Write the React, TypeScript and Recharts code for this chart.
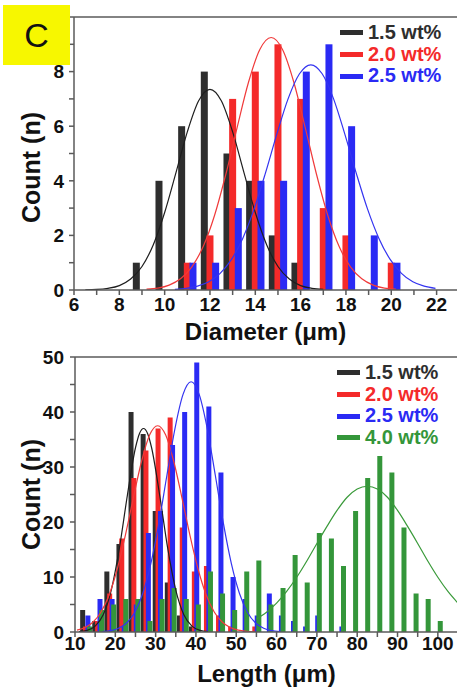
import React from 'react';
import { ComposedChart, Bar, Line, XAxis, YAxis, ReferenceLine } from 'recharts';

const FONT = '"Liberation Sans", Arial, sans-serif';

// ---------- shared ----------
const seriesNames = ['1.5 wt%', '2.0 wt%', '2.5 wt%', '4.0 wt%'];
const barColors = ['#2e2e2e', '#f42a2a', '#2a2af4', '#34963a'];
const lineColors = ['#1e1e1e', '#f03a3a', '#3434f0', '#3a9a3a'];

// ---------- top panel: Diameter ----------
const diaXTicks = [6, 7, 8, 9, 10, 11, 12, 13, 14, 15, 16, 17, 18, 19, 20, 21, 22];
const diaXLabels = [6, 8, 10, 12, 14, 16, 18, 20, 22];
const diaYTicks = [0, 1, 2, 3, 4, 5, 6, 7, 8, 9, 10];
const diaYLabels = [0, 2, 4, 6, 8];

const dia15X = [8.75, 9.75, 10.75, 11.75, 12.75, 13.75, 14.75, 15.75];
const dia15N = [1, 4, 6, 8, 5, 4, 2, 1];
const dia20X = [11, 12, 13, 14, 15, 16, 17, 18, 20];
const dia20N = [1, 2, 7, 8, 9, 7, 3, 2, 1];
const dia25X = [11.25, 12.25, 13.25, 14.25, 15.25, 16.25, 17.25, 18.25, 19.25, 20.25];
const dia25N = [1, 1, 3, 4, 4, 8, 9, 6, 2, 1];

const dia15FitX = [6.5, 7, 7.5, 8, 8.5, 9, 9.5, 10, 10.5, 11, 11.5, 12, 12.5, 13, 13.5, 14, 14.5, 15, 15.5, 16, 16.5, 17];
const dia15FitY = [0.01, 0.02, 0.06, 0.16, 0.4, 0.86, 1.66, 2.84, 4.3, 5.79, 6.93, 7.35, 6.93, 5.79, 4.3, 2.84, 1.66, 0.86, 0.4, 0.16, 0.06, 0.02];
const dia20FitX = [9.2, 9.7, 10.2, 10.7, 11.2, 11.7, 12.2, 12.7, 13.2, 13.7, 14.2, 14.7, 15.2, 15.7, 16.2, 16.7, 17.2, 17.7, 18.2, 18.7, 19.2, 19.7, 20.2];
const dia20FitY = [0.03, 0.07, 0.18, 0.41, 0.85, 1.59, 2.73, 4.24, 5.96, 7.61, 8.81, 9.25, 8.81, 7.61, 5.96, 4.24, 2.73, 1.59, 0.85, 0.41, 0.18, 0.07, 0.03];
const dia25FitX = [10.45, 10.95, 11.45, 11.95, 12.45, 12.95, 13.45, 13.95, 14.45, 14.95, 15.45, 15.95, 16.45, 16.95, 17.45, 17.95, 18.45, 18.95, 19.45, 19.95, 20.45, 20.95, 21.45, 21.95];
const dia25FitY = [0.02, 0.06, 0.14, 0.3, 0.61, 1.12, 1.9, 2.97, 4.29, 5.71, 7.01, 7.92, 8.25, 7.92, 7.01, 5.71, 4.29, 2.97, 1.9, 1.12, 0.61, 0.3, 0.14, 0.06];

// ---------- bottom panel: Length ----------
const lenXTicks = [10, 15, 20, 25, 30, 35, 40, 45, 50, 55, 60, 65, 70, 75, 80, 85, 90, 95, 100];
const lenXLabels = [10, 20, 30, 40, 50, 60, 70, 80, 90, 100];
const lenYTicks = [0, 5, 10, 15, 20, 25, 30, 35, 40, 45, 50];
const lenYLabels = [0, 10, 20, 30, 40, 50];

const len15X = [11.9, 14.9, 17.9, 20.9, 23.9, 26.9, 29.9, 32.9, 35.9, 38.9];
const len15N = [4, 2, 11, 16, 40, 36, 22, 9, 3, 1];
const len20X = [12.6, 15.6, 18.6, 21.6, 24.6, 27.6, 30.6, 33.6, 36.6, 39.6, 42.6, 45.6, 48.6, 54.6];
const len20N = [1, 2, 7, 17, 28, 33, 37, 39, 19, 11, 12, 3, 1, 1];
const len25X = [13.2, 16.2, 19.2, 22.2, 25.2, 28.2, 31.2, 34.2, 37.2, 40.2, 43.2, 46.2, 49.2, 52.2, 55.2, 58.2, 61.2, 64.2, 67.2, 70.2, 76.2];
const len25N = [3, 6, 6, 1, 5, 18, 22, 34, 40, 49, 41, 29, 10, 6, 3, 7, 3, 2, 1, 3, 1];
const len40X = [13.6, 16.6, 19.6, 22.6, 25.6, 28.6, 31.6, 34.6, 37.6, 40.6, 43.6, 46.6, 49.6, 52.6, 55.6, 58.6, 61.6, 64.6, 67.6, 70.6, 73.6, 76.6, 79.6, 82.6, 85.6, 88.6, 91.6, 94.6, 97.6, 100.6];
const len40N = [1, 4, 5, 6, 6, 2, 6, 8, 6, 5, 11, 7, 4, 11, 13, 5, 8, 14, 9, 18, 17, 12, 22, 28, 32, 29, 19, 7, 6, 2];

const len15FitX = [11, 13, 15, 17, 19, 21, 23, 25, 26, 27, 28, 29, 31, 33, 35, 37, 39, 41, 43];
const len15FitY = [0.07, 0.29, 1.06, 3.13, 7.62, 15.2, 24.9, 33.5, 36.1, 37, 36.1, 33.5, 24.9, 15.2, 7.62, 3.13, 1.06, 0.29, 0.07];
const len20FitX = [10.5, 12.5, 14.5, 16.5, 18.5, 20.5, 22.5, 24.5, 26.5, 28.5, 30.5, 32.5, 34.5, 36.5, 38.5, 40.5, 42.5, 44.5, 46.5, 48.5, 50.5, 52.5, 54.5];
const len20FitY = [0.33, 0.81, 1.81, 3.69, 6.82, 11.5, 17.6, 24.5, 31.0, 35.8, 37.5, 35.8, 31.0, 24.5, 17.6, 11.5, 6.82, 3.69, 1.81, 0.81, 0.33, 0.12, 0.04];
const len25FitX = [16.8, 18.8, 20.8, 22.8, 24.8, 26.8, 28.8, 30.8, 32.8, 34.8, 36.8, 38.8, 40.8, 42.8, 44.8, 46.8, 48.8, 50.8, 52.8, 54.8, 56.8, 58.8, 60.8];
const len25FitY = [0.08, 0.25, 0.67, 1.63, 3.56, 7.0, 12.4, 19.8, 28.5, 37.0, 43.2, 45.5, 43.2, 37.0, 28.5, 19.8, 12.4, 7.0, 3.56, 1.63, 0.67, 0.25, 0.08];
const len40FitX = [55, 57.5, 60, 62.5, 65, 67.5, 70, 72.5, 75, 77.5, 80, 82.5, 85, 87.5, 90, 92.5, 95, 97.5, 100, 102.5, 105];
const len40FitY = [2.36, 3.59, 5.25, 7.37, 9.95, 12.9, 16.1, 19.2, 22.1, 24.5, 26.0, 26.5, 26.0, 24.5, 22.1, 19.2, 16.1, 12.9, 9.95, 7.37, 5.25];

// ---------- helpers ----------
type Row = { x: number; [k: string]: number };
function buildBars(series: { key: string; xs: number[]; ns: number[] }[]): Row[] {
  const rows: Row[] = [];
  series.forEach((s) => s.xs.forEach((x, i) => rows.push({ x, [s.key]: s.ns[i] })));
  rows.sort((a, b) => a.x - b.x);
  return rows;
}
function zip(xs: number[], ys: number[]) {
  return xs.map((x, i) => ({ x, y: ys[i] }));
}

const diaBars = buildBars([
  { key: 's15', xs: dia15X, ns: dia15N },
  { key: 's20', xs: dia20X, ns: dia20N },
  { key: 's25', xs: dia25X, ns: dia25N },
]);
const diaFits = [zip(dia15FitX, dia15FitY), zip(dia20FitX, dia20FitY), zip(dia25FitX, dia25FitY)];

const lenBars = buildBars([
  { key: 's15', xs: len15X, ns: len15N },
  { key: 's20', xs: len20X, ns: len20N },
  { key: 's25', xs: len25X, ns: len25N },
  { key: 's40', xs: len40X, ns: len40N },
]);
const lenFits = [zip(len15FitX, len15FitY), zip(len20FitX, len20FitY), zip(len25FitX, len25FitY), zip(len40FitX, len40FitY)];

const AXIS = '#5a5a5a';
const tickStyle = { fill: '#111', fontSize: 19, fontWeight: 700, fontFamily: FONT };

// bar drawn centred on the library-computed x position with a fixed pixel width
function fixedBar(w: number) {
  return (props: any) => {
    const { x, y, width, height, fill } = props;
    if (!height || height <= 0 || x == null) return <g />;
    const cx = x + width / 2;
    return <rect x={cx - w / 2} y={y} width={w} height={height} fill={fill} />;
  };
}

function yTitle(shift: number) {
  return (props: any) => {
    const vb = props.viewBox || {};
    const cx = 31;
    const cy = (vb.y ?? 0) + (vb.height ?? 0) / 2 + shift;
    return (
      <text
        x={cx}
        y={cy}
        transform={`rotate(-90, ${cx}, ${cy})`}
        textAnchor="middle"
        dominantBaseline="central"
        fill="#111"
        fontSize={25}
        fontWeight={700}
        fontFamily={FONT}
      >
        Count (n)
      </text>
    );
  };
}

function LegendBox({ top, left, count }: { top: number; left: number; count: number }) {
  return (
    <div style={{ position: 'absolute', top, left, fontFamily: FONT, fontWeight: 700, fontSize: 20, lineHeight: '21.7px' }}>
      {seriesNames.slice(0, count).map((n, i) => (
        <div key={n} style={{ display: 'flex', alignItems: 'center', color: barColors[i], whiteSpace: 'nowrap' }}>
          <span style={{ display: 'inline-block', width: 23, height: 5, background: barColors[i], marginRight: 5 }} />
          {n}
        </div>
      ))}
    </div>
  );
}

export default function App() {
  const keys = ['s15', 's20', 's25', 's40'];
  const topShape = fixedBar(7);
  const botShape = fixedBar(5);
  return (
    <div style={{ position: 'fixed', left: 0, top: 0, width: 457, height: 690, overflow: 'hidden', background: '#fff' }}>
      {/* top panel */}
      <div style={{ position: 'absolute', left: 0, top: 0 }}>
        <ComposedChart width={457} height={350} data={diaBars} margin={{ top: 17, right: 0, bottom: 0, left: 0 }}>
          <XAxis
            dataKey="x"
            type="number"
            domain={[6, 22.9]}
            ticks={diaXTicks}
            interval={0}
            allowDataOverflow
            tickFormatter={(v: number) => (diaXLabels.includes(v) ? String(v) : '')}
            tick={tickStyle}
            tickSize={5}
            tickMargin={3}
            stroke={AXIS}
            strokeWidth={1.5}
            height={60}
            label={{ value: 'Diameter (μm)', position: 'insideBottom', offset: 10, fill: '#111', fontSize: 24, fontWeight: 700, fontFamily: FONT }}
          />
          <YAxis
            type="number"
            domain={[0, 10]}
            ticks={diaYTicks}
            interval={0}
            allowDataOverflow
            tickFormatter={(v: number) => (diaYLabels.includes(v) ? String(v) : '')}
            tick={tickStyle}
            tickSize={5}
            tickMargin={5}
            stroke={AXIS}
            strokeWidth={1.5}
            width={74}
            label={{ content: yTitle(14) }}
          />
          <ReferenceLine y={10} stroke={AXIS} strokeWidth={1.5} />
          {keys.slice(0, 3).map((k, i) => (
            <Bar key={k} dataKey={k} stackId="d" fill={barColors[i]} shape={topShape} isAnimationActive={false} />
          ))}
          {diaFits.map((d, i) => (
            <Line key={'f' + i} data={d} dataKey="y" type="monotone" stroke={lineColors[i]} strokeWidth={1.2} dot={false} isAnimationActive={false} />
          ))}
        </ComposedChart>
      </div>
      <LegendBox top={22} left={340} count={3} />

      {/* bottom panel */}
      <div style={{ position: 'absolute', left: 0, top: 340 }}>
        <ComposedChart width={458} height={350} data={lenBars} margin={{ top: 17, right: 0, bottom: 0, left: 0 }}>
          <XAxis
            dataKey="x"
            type="number"
            domain={[10, 105]}
            ticks={lenXTicks}
            interval={0}
            allowDataOverflow
            tickFormatter={(v: number) => (lenXLabels.includes(v) ? String(v) : '')}
            tick={tickStyle}
            tickSize={5}
            tickMargin={0}
            stroke={AXIS}
            strokeWidth={1.5}
            height={58}
            label={{ value: 'Length (μm)', position: 'insideBottom', offset: 8, fill: '#111', fontSize: 24, fontWeight: 700, fontFamily: FONT }}
          />
          <YAxis
            type="number"
            domain={[0, 50]}
            ticks={lenYTicks}
            interval={0}
            allowDataOverflow
            tickFormatter={(v: number) => (lenYLabels.includes(v) ? String(v) : '')}
            tick={tickStyle}
            tickSize={5}
            tickMargin={6}
            stroke={AXIS}
            strokeWidth={1.5}
            width={75}
            label={{ content: yTitle(0) }}
          />
          <ReferenceLine y={50} stroke={AXIS} strokeWidth={1.5} />
          {keys.map((k, i) => (
            <Bar key={k} dataKey={k} stackId="l" fill={barColors[i]} shape={botShape} isAnimationActive={false} />
          ))}
          {lenFits.map((d, i) => (
            <Line key={'g' + i} data={d} dataKey="y" type="monotone" stroke={lineColors[i]} strokeWidth={1.2} dot={false} isAnimationActive={false} />
          ))}
        </ComposedChart>
      </div>
      <LegendBox top={362} left={337} count={4} />

      {/* panel tag */}
      <div
        style={{
          position: 'absolute',
          left: 3,
          top: 5,
          width: 67,
          height: 60,
          background: '#f7f700',
          display: 'flex',
          alignItems: 'center',
          justifyContent: 'center',
          fontFamily: FONT,
          fontSize: 34,
          color: '#111',
        }}
      >
        C
      </div>
    </div>
  );
}
